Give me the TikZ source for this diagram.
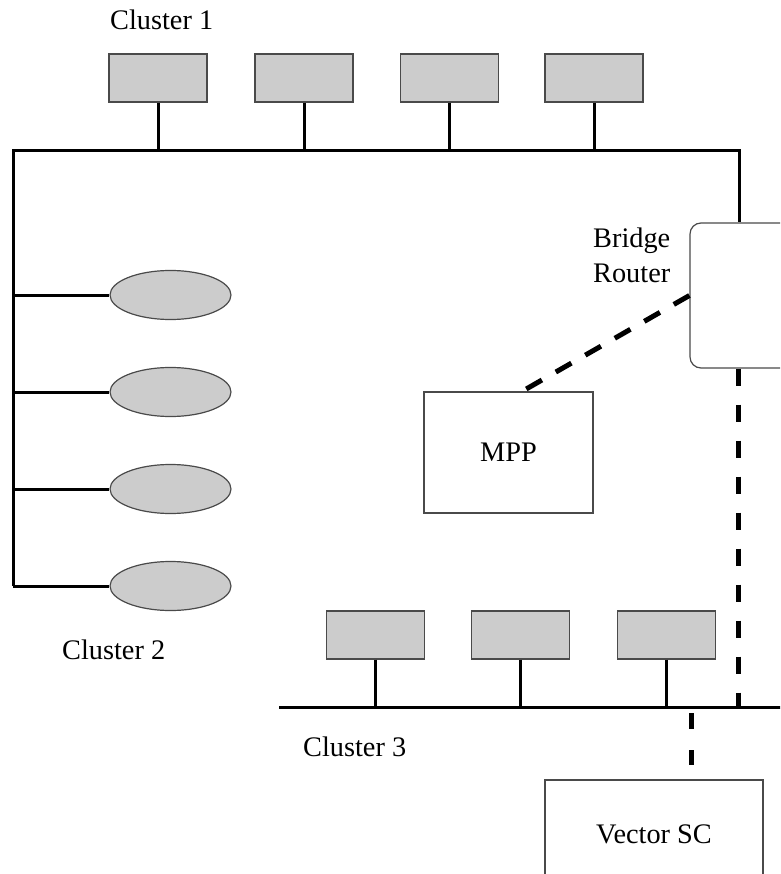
\documentclass[tikz,border=0pt]{standalone}
\usepackage{fontspec}
\setmainfont{Liberation Serif}
\usetikzlibrary{shapes.geometric,calc}
\definecolor{boxgray}{HTML}{CCCCCC}
\definecolor{edgegray}{HTML}{4A4A4A}
\tikzset{
  busline/.style={line width=3pt, line join=miter},
  hostbox/.style={draw=edgegray, line width=1.2pt, fill=boxgray, rectangle, inner sep=0pt, minimum width=98pt, minimum height=48pt},
  hostoval/.style={draw=edgegray, line width=1.2pt, fill=boxgray, ellipse, inner sep=0pt, minimum width=121pt, minimum height=49pt},
  plainbox/.style={draw=edgegray, line width=1.2pt, fill=white, rectangle, inner sep=0pt},
  linkdash/.style={line width=5pt, dash pattern=on 17pt off 19pt},
  lbl/.style={inner sep=0pt, font=\fontsize{28.3}{34}\selectfont},
}
\begin{document}
\begin{tikzpicture}[x=1pt,y=-1pt]
\useasboundingbox (0,0) rectangle (780,874);
\clip (0,0) rectangle (780,874);
\fill[white] (0,0) rectangle (780,874);

% Cluster 1 hosts
\node[hostbox] (a1) at (158,78) {};
\node[hostbox] (a2) at (304,78) {};
\node[hostbox] (a3) at (449.5,78) {};
\node[hostbox] (a4) at (594,78) {};

% Cluster 2 hosts
\node[hostoval] (e1) at (170.5,295) {};
\node[hostoval] (e2) at (170.5,392) {};
\node[hostoval] (e3) at (170.5,489) {};
\node[hostoval] (e4) at (170.5,586) {};

% Cluster 3 hosts
\node[hostbox] (c1) at (375.5,635) {};
\node[hostbox] (c2) at (520.5,635) {};
\node[hostbox] (c3) at (666.5,635) {};

% Router, MPP, Vector SC
\node[plainbox, rounded corners=11pt, minimum width=120pt, minimum height=145pt] (router) at (750,295.5) {};
\node[plainbox, minimum width=169pt, minimum height=121pt, lbl] (mpp) at (508.5,452.5) {MPP};
\node[plainbox, minimum width=218pt, minimum height=108pt, lbl] (vsc) at (654,834) {Vector SC};

% bus coordinates
\coordinate (tl) at (13,151);
\coordinate (tr) at (739,151);
\coordinate (bl) at (13,586);
\coordinate (b3l) at (279,707);
\coordinate (b3r) at (782,707);
\coordinate (rtap) at (738,707);
\coordinate (vtap) at (691,707);
\coordinate (mppin) at (521,392);

% Cluster 1 / 2 bus
\draw[busline] (bl) -- (tl) -- (tr) -- (tr |- router.north);
\foreach \n in {a1,a2,a3,a4} \draw[busline] (\n.south) -- (\n.south |- tl);
\foreach \n in {e1,e2,e3,e4} \draw[busline] (\n.west -| tl) -- (\n.west);

% Cluster 3 bus
\draw[busline] (b3l) -- (b3r);
\foreach \n in {c1,c2,c3} \draw[busline] (\n.south) -- (\n.south |- b3l);

% dashed links
\draw[linkdash, dash pattern=on 18pt off 16pt] (router.west) -- (mppin);
\draw[linkdash] (rtap |- router.south) -- (rtap);
\draw[linkdash, dash pattern=on 16pt off 21pt, shorten <=6pt, shorten >=14pt] (vtap) -- (vtap |- vsc.north);

% labels
\node[lbl, anchor=base west] (l1) at (110,30) {Cluster 1};
\node[lbl, anchor=base west] (l2) at (62,659) {Cluster 2};
\node[lbl, anchor=base west] (l3) at (303,756) {Cluster 3};
\node[lbl, anchor=base west] (br1) at (593,248) {Bridge};
\node[lbl, anchor=base west] (br2) at (593,282) {Router};
\end{tikzpicture}
\end{document}
